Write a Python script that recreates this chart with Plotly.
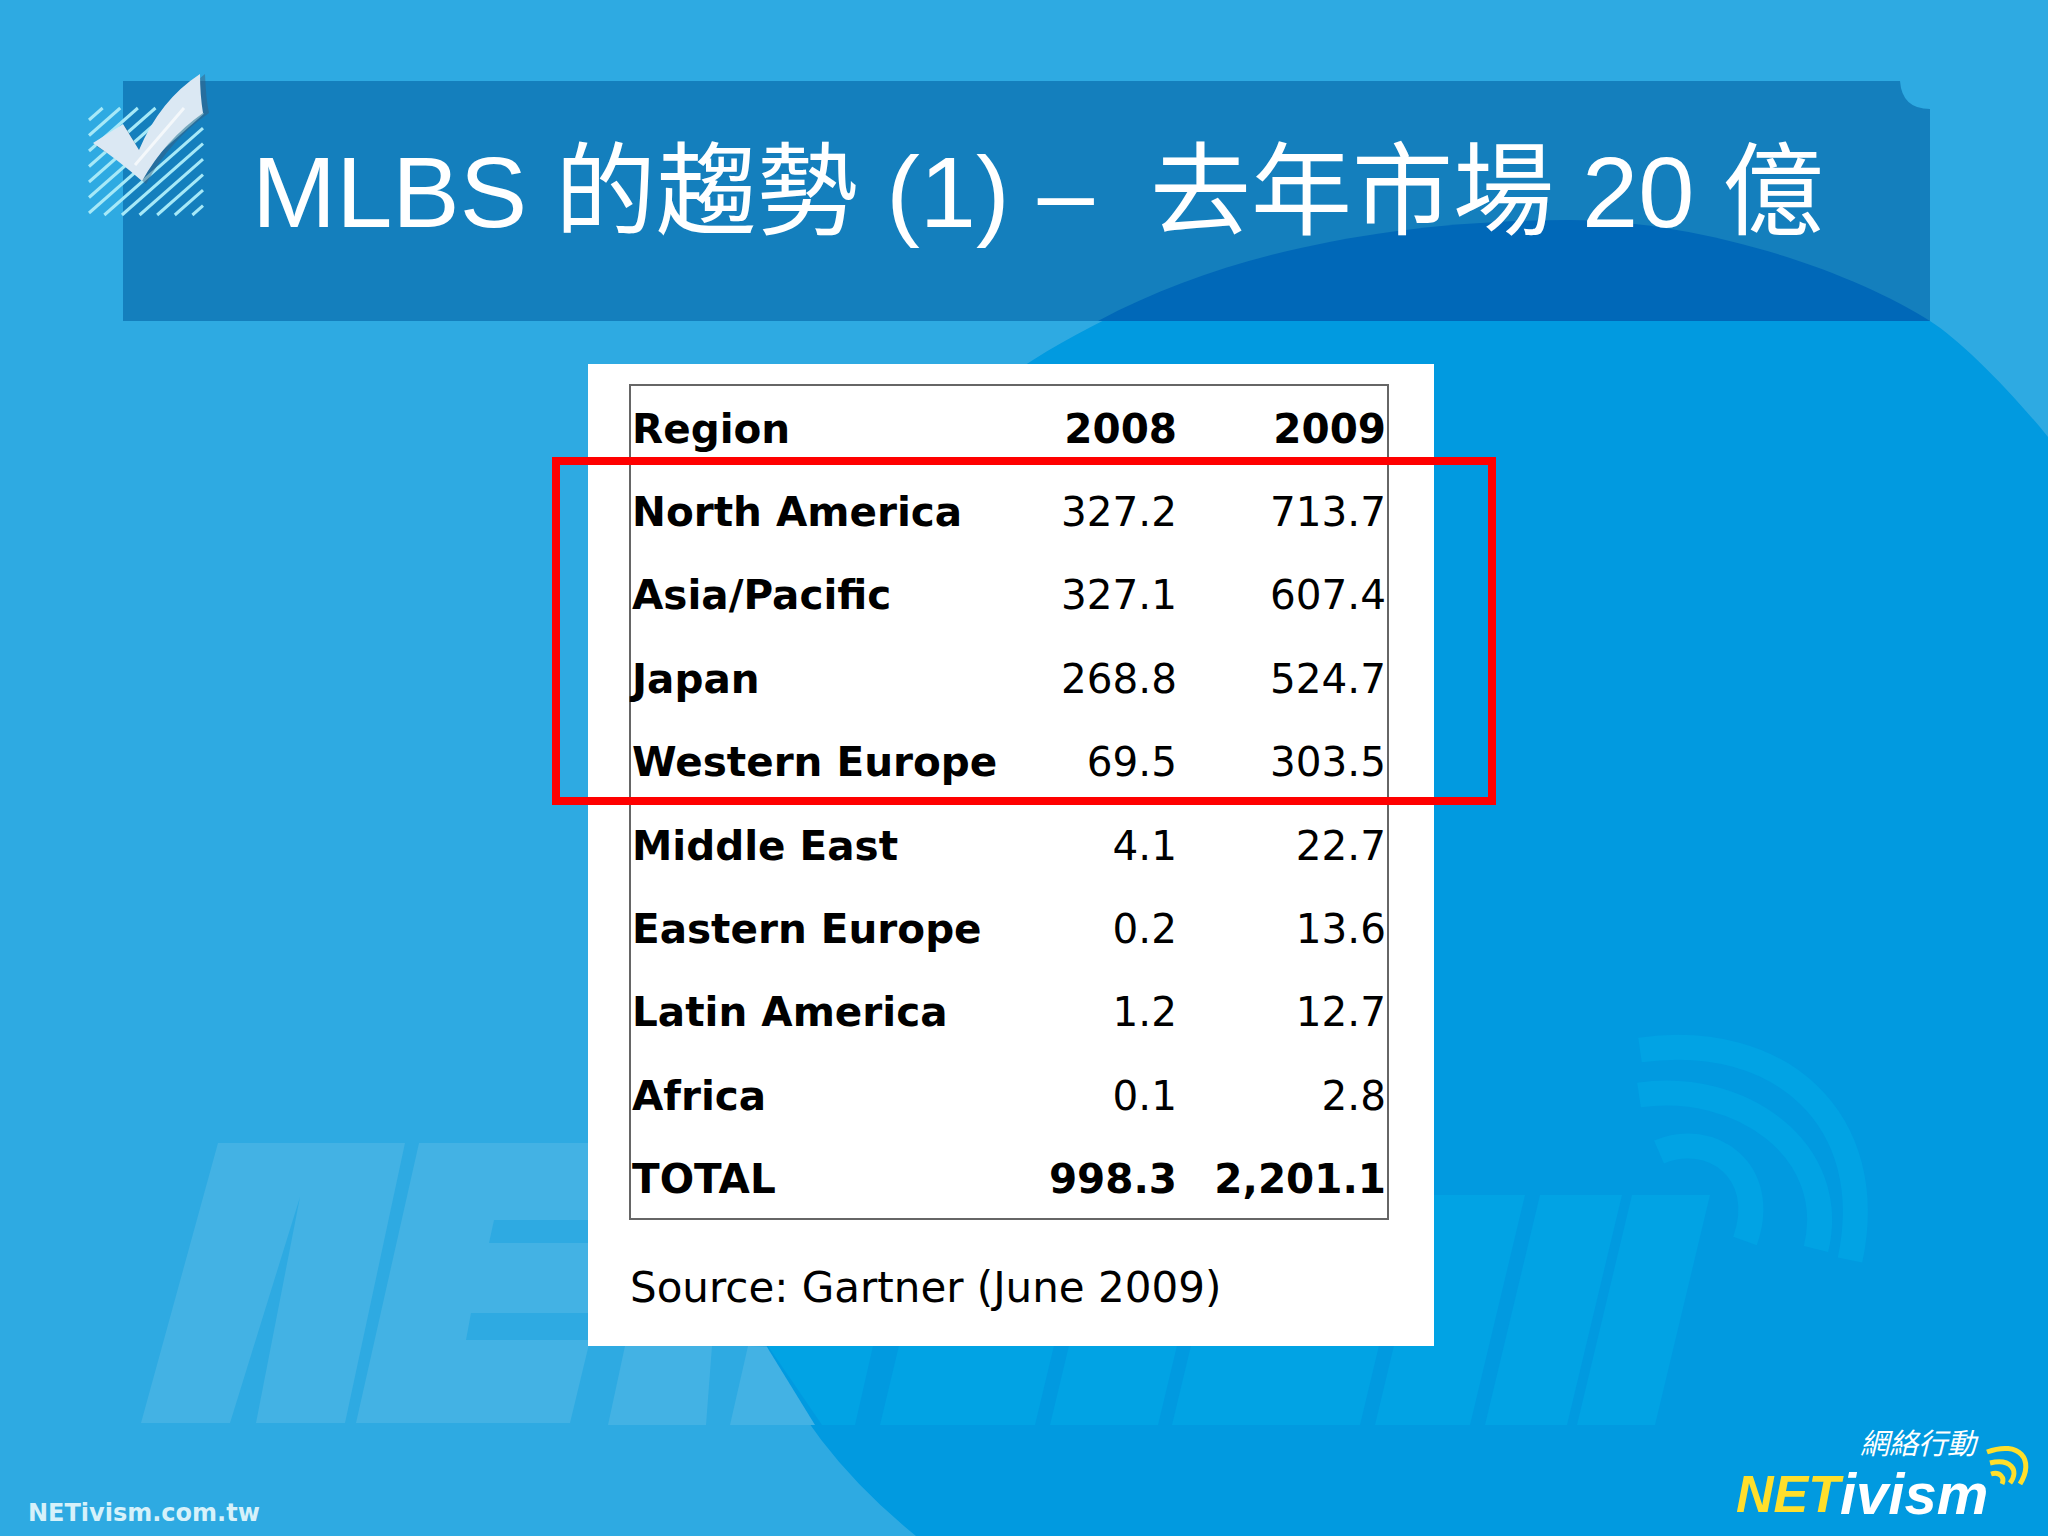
import plotly.graph_objects as go

title_text = 'MLBS 的趨勢 (1) –\u00a0\u00a0去年市場 20 億'
columns = ['Region', '2008', '2009']
regions = ['North America', 'Asia/Pacific', 'Japan', 'Western Europe', 'Middle East',
           'Eastern Europe', 'Latin America', 'Africa', 'TOTAL']
values_2008 = [327.2, 327.1, 268.8, 69.5, 4.1, 0.2, 1.2, 0.1, 998.3]
values_2009 = [713.7, 607.4, 524.7, 303.5, 22.7, 13.6, 12.7, 2.8, 2201.1]
source_text = 'Source: Gartner (June 2009)'
footer_text = 'NETivism.com.tw'

LIGHT_BG = '#2eaae2'
BLOB = '#019ae0'
WM_LIGHT = '#43b2e4'
WM_BLOB = '#01a3e4'
SANS = 'DejaVu Sans'
TITLE_FONT = 'Liberation Sans, Noto Sans CJK TC'


def poly(pts):
    return 'M ' + ' L '.join(f'{x},{y}' for x, y in pts) + ' Z'


def fill_shape(path, color, layer='below'):
    return dict(type='path', path=path, fillcolor=color, line_width=0, layer=layer)


def curve_shape(path, color, width, layer='below'):
    return dict(type='path', path=path, line=dict(color=color, width=width), layer=layer)


shapes = []

# big dark shape behind the table
blob = ('M 916,1536 Q 810,1450 767,1347 C 650,1000 780,520 1033,360 '
        'C 1200,255 1400,220 1568,220 C 1700,220 1850,270 1930,321 '
        'C 1960,340 2010,390 2048,437 L 2048,1536 Z')
shapes.append(fill_shape(blob, BLOB))

# watermark, left part
wm_left = [
    [(218, 1143), (405, 1143), (345, 1423), (256, 1423), (300, 1197), (230, 1423), (141, 1423)],
    [(419, 1143), (650, 1143), (635, 1220), (494, 1220), (489, 1243), (620, 1243), (605, 1313),
     (471, 1313), (466, 1340), (590, 1340), (570, 1423), (356, 1423)],
    [(625, 1346), (712, 1346), (706, 1425), (608, 1425)],
    [(748, 1346), (767, 1347), (815, 1425), (730, 1425)],
]
for pts in wm_left:
    shapes.append(fill_shape(poly(pts), WM_LIGHT))

# watermark, part on the dark shape
wm_blocks = [(880, 1035), (1050, 1158), (1172, 1360), (1375, 1470), (1485, 1567), (1577, 1655)]
for x0, x1 in wm_blocks:
    shapes.append(fill_shape(poly([(x0 + 55, 1195), (x1 + 55, 1195), (x1, 1425), (x0, 1425)]), WM_BLOB))
shapes.append(fill_shape(poly([(768, 1346), (873, 1346), (855, 1425), (822, 1425)]), WM_BLOB))
for p in ['M 1640,1050 C 1780,1030 1880,1120 1850,1260',
          'M 1639,1095 C 1740,1080 1840,1150 1816,1249',
          'M 1659,1152 C 1710,1130 1770,1170 1745,1241']:
    shapes.append(curve_shape(p, WM_BLOB, 25))

# title band, darker where the big shape runs under it
banner = 'M 123,81 L 1900,81 Q 1902,109 1930,109 L 1930,321 L 123,321 Z'
shapes.append(fill_shape(banner, '#147fbd'))
shapes.append(fill_shape('M 1098,321 C 1230,250 1400,220 1568,220 C 1700,220 1850,270 1930,321 Z', '#0068b8'))

# hatched square of the tick
hx0, hx1, hy0, hy1 = 89, 203, 108, 215
slope = 0.88
for i in range(14):
    c = hy0 + 12 + i * 15.5
    xa, ya = hx0, c
    if ya > hy1:
        xa, ya = hx0 + (ya - hy1) / slope, hy1
    xb, yb = hx1, c - (hx1 - hx0) * slope
    if yb < hy0:
        xb, yb = hx0 + (c - hy0) / slope, hy0
    if xa < hx1:
        shapes.append(dict(type='line', x0=xa, y0=ya, x1=xb, y1=yb, layer='below',
                           line=dict(color='#a6e9f8', width=3)))

# tick
shapes.append(fill_shape('M 205,74 Q 206,100 209,113 Q 170,140 146,184 Q 120,160 96,146 L 125,126 '
                         'L 142,155 Q 165,105 205,74 Z', 'rgba(60,90,120,0.45)'))
shapes.append(fill_shape('M 200,74 Q 200,95 203,113 Q 165,140 142,181 Q 118,160 93,143 L 123,124 '
                         'L 139,150 Q 160,100 200,74 Z', '#dbe8f3'))
shapes.append(dict(type='line', x0=135, y0=165, x1=184, y1=108, layer='below',
                   line=dict(color='#f4f8fb', width=3)))

# white panel, table frame and red box
shapes.append(dict(type='rect', x0=588, x1=1434, y0=364, y1=1346, fillcolor='white', line_width=0, layer='below'))
shapes.append(dict(type='rect', x0=630, x1=1388, y0=385, y1=1219, fillcolor='rgba(0,0,0,0)',
                   line=dict(color='#666666', width=2), layer='below'))
shapes.append(dict(type='rect', x0=556, x1=1492, y0=461, y1=801, fillcolor='rgba(0,0,0,0)',
                   line=dict(color='#ff0000', width=8), layer='above'))

# logo arcs
for p in ['M 1987,1452 C 2020,1440 2035,1460 2020,1484',
          'M 1990,1463 C 2010,1458 2020,1470 2010,1483',
          'M 1991,1474 C 2000,1471 2005,1478 2002,1484']:
    shapes.append(curve_shape(p, '#ffdf2b', 5))

# table rows come from the arrays above
row_y = [432.5 + i * 83.4 for i in range(len(regions) + 1)]
col_text = ['<b>' + columns[0] + '</b>'] + ['<b>' + r + '</b>' for r in regions]


def fmt(values, header):
    out = [f'<b>{header}</b>']
    for i, v in enumerate(values):
        s = f'{v:,.1f}'
        out.append(f'<b>{s}</b>' if regions[i] == 'TOTAL' else s)
    return out


def text_trace(x, y, text, pos, size, family=SANS, color='black'):
    return go.Scatter(x=x, y=y, text=text, mode='text', textposition=pos, hoverinfo='skip',
                      showlegend=False, textfont=dict(family=family, size=size, color=color))


fig = go.Figure()
fig.add_trace(text_trace([632] * len(col_text), row_y, col_text, 'middle right', 40.5))
fig.add_trace(text_trace([1177] * len(col_text), row_y, fmt(values_2008, columns[1]), 'middle left', 40.5))
fig.add_trace(text_trace([1386] * len(col_text), row_y, fmt(values_2009, columns[2]), 'middle left', 40.5))
fig.add_trace(text_trace([630], [1291], [source_text], 'middle right', 42))
fig.add_trace(text_trace([252], [202], [title_text], 'middle right', 101, TITLE_FONT, 'white'))
fig.add_trace(text_trace([28], [1515], ['<b>' + footer_text + '</b>'], 'middle right', 24, SANS, '#d6f1fa'))

fig.add_trace(text_trace([1736], [1499], ['<b><i>NET</i></b>'], 'middle right', 52,
                         'Liberation Sans', '#ffdf2b'))
fig.add_trace(text_trace([1840], [1499], ['<b><i>ivism</i></b>'], 'middle right', 58,
                         'Liberation Sans', 'white'))
fig.add_trace(text_trace([1860], [1447], ['<i>網絡行動</i>'], 'middle right', 29,
                         'Noto Sans CJK TC', 'white'))

fig.update_layout(
    width=2048, height=1536,
    margin=dict(l=0, r=0, t=0, b=0),
    paper_bgcolor=LIGHT_BG, plot_bgcolor=LIGHT_BG,
    xaxis=dict(range=[0, 2048], visible=False, fixedrange=True),
    yaxis=dict(range=[1536, 0], visible=False, fixedrange=True),
    shapes=shapes,
    showlegend=False)

fig.write_html("out.html", config={'displayModeBar': False},
               post_script="document.body.style.margin='0';document.documentElement.style.overflow='hidden';")
